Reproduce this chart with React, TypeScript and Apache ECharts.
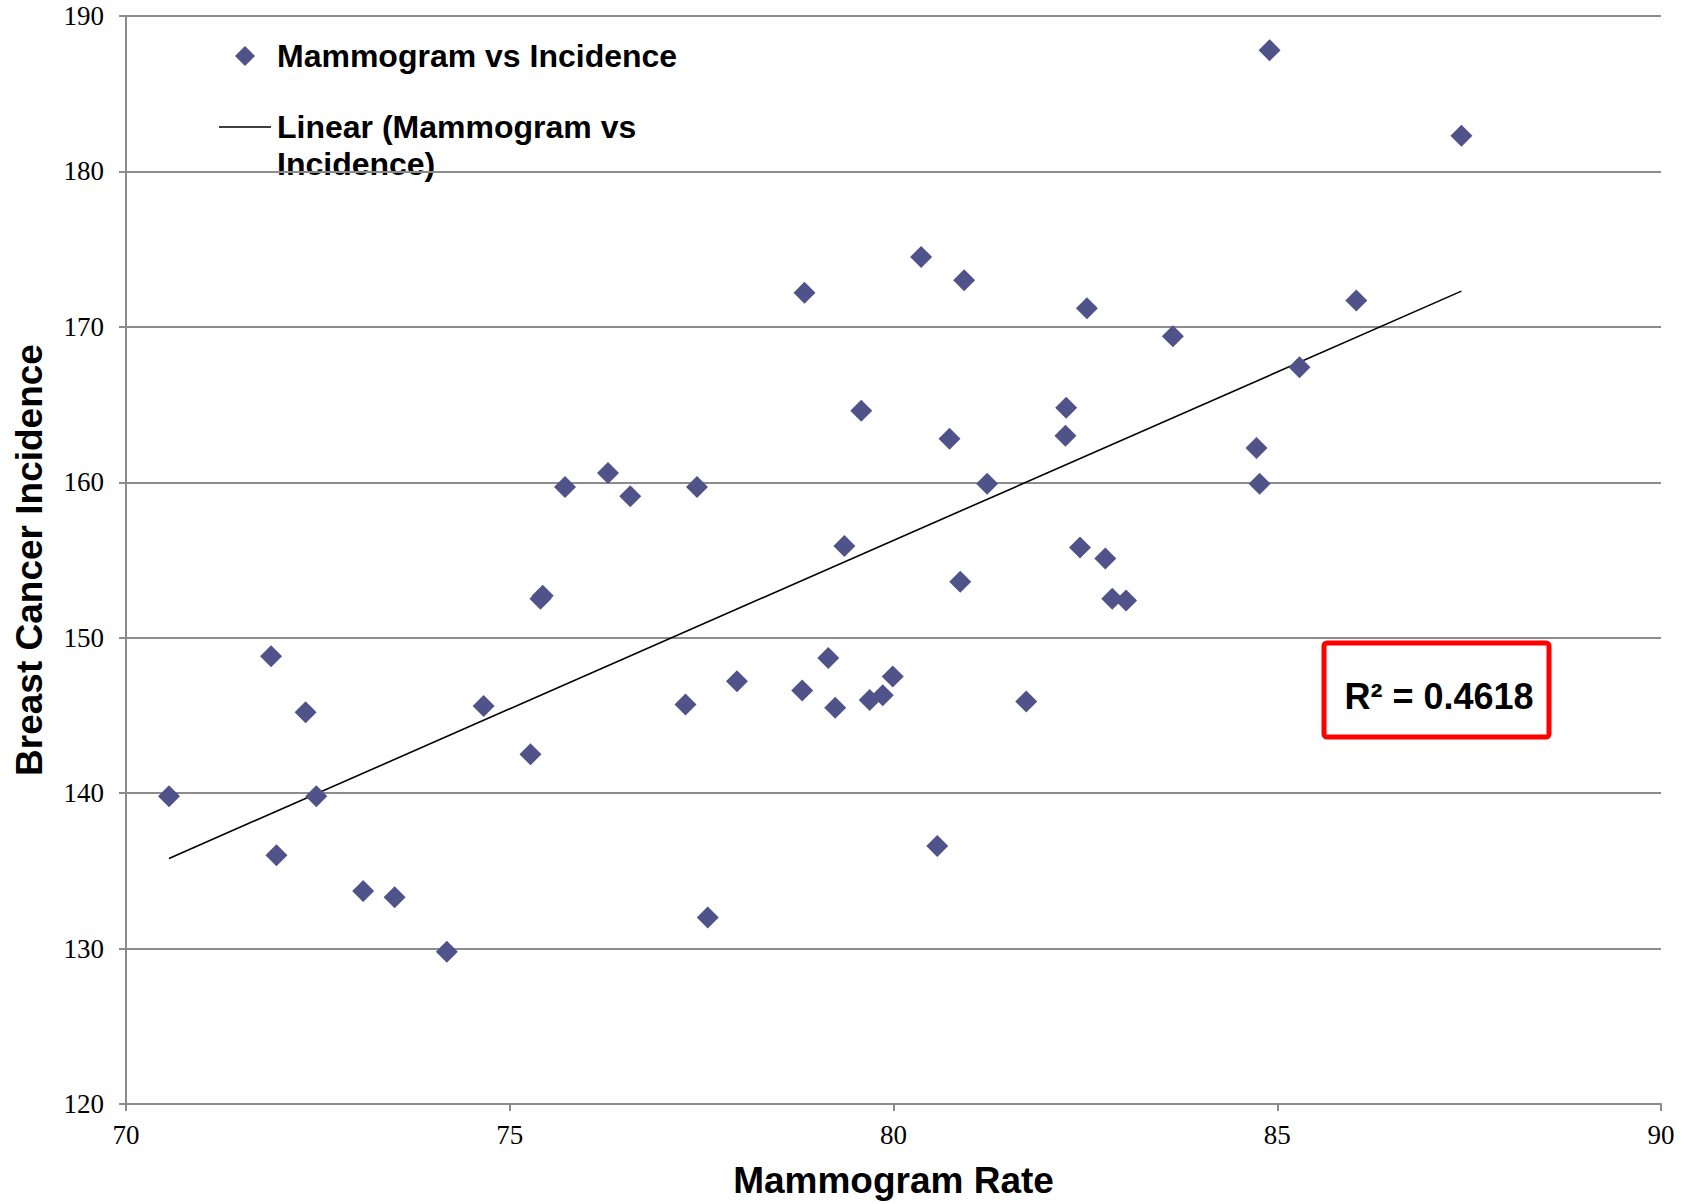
import React, { useEffect, useRef } from "react";
import * as echarts from "echarts";

const mammogramRate: number[] = [
  70.56, 71.89, 71.96, 72.34, 72.48, 73.09, 73.5, 74.18, 74.66, 75.27,
  75.4, 75.43, 75.72, 76.28, 76.57, 77.29, 77.44, 77.58, 77.96, 78.81,
  78.84, 79.15, 79.24, 79.36, 79.58, 79.69, 79.86, 79.99, 80.36, 80.57,
  80.73, 80.87, 80.92, 81.22, 81.73, 82.24, 82.25, 82.43, 82.52, 82.76,
  82.85, 83.03, 83.64, 84.73, 84.77, 84.9, 85.29, 86.03, 87.4,
];
const incidence: number[] = [
  139.8, 148.8, 136.0, 145.2, 139.8, 133.7, 133.3, 129.8, 145.6, 142.5,
  152.5, 152.7, 159.7, 160.6, 159.1, 145.7, 159.7, 132.0, 147.2, 146.6,
  172.2, 148.7, 145.5, 155.9, 164.6, 146.0, 146.3, 147.5, 174.5, 136.6,
  162.8, 153.6, 173.0, 159.9, 145.9, 163.0, 164.8, 155.8, 171.2, 155.1,
  152.5, 152.4, 169.4, 162.2, 159.9, 187.8, 167.4, 171.7, 182.3,
];
const trendX: number[] = [70.56, 87.4];
const trendY: number[] = [135.8, 172.3];
const seriesName = "Mammogram vs Incidence";
const trendName = "Linear (Mammogram vs Incidence)";
const rSquaredText = "R² = 0.4618";
const xTitle = "Mammogram Rate";
const yTitle = "Breast Cancer Incidence";

export default function App() {
  const ref = useRef<HTMLDivElement>(null);
  useEffect(() => {
    if (!ref.current) return;
    const chart = echarts.init(ref.current, null, { renderer: "svg" });
    const points = mammogramRate.map((x, i) => [x, incidence[i]]);
    const trend = trendX.map((x, i) => [x, trendY[i]]);
    const gray = "#8c8c8c";
    const markerColor = "#50538A";
    const legendFont = "bold 32px 'Liberation Sans'";
    chart.setOption({
      animation: false,
      backgroundColor: "#ffffff",
      grid: { left: 126, right: 23, top: 16, bottom: 99, containLabel: false },
      xAxis: {
        type: "value",
        min: 70,
        max: 90,
        interval: 5,
        name: xTitle,
        nameLocation: "middle",
        nameGap: 58,
        nameTextStyle: { fontFamily: "Liberation Sans", fontWeight: "bold", fontSize: 37, color: "#000" },
        axisLine: { show: true, lineStyle: { color: gray, width: 2 } },
        axisTick: { show: true, inside: false, length: 7, lineStyle: { color: gray, width: 2 } },
        axisLabel: { fontFamily: "Liberation Serif", fontSize: 27, color: "#000", margin: 17 },
        splitLine: { show: false },
      },
      yAxis: {
        type: "value",
        min: 120,
        max: 190,
        interval: 10,
        name: yTitle,
        nameLocation: "middle",
        nameGap: 78,
        nameRotate: 90,
        nameTextStyle: { fontFamily: "Liberation Sans", fontWeight: "bold", fontSize: 37, color: "#000" },
        axisLine: { show: true, lineStyle: { color: gray, width: 2 } },
        axisTick: { show: true, inside: false, length: 7, lineStyle: { color: gray, width: 2 } },
        axisLabel: { fontFamily: "Liberation Serif", fontSize: 27, color: "#000", margin: 22 },
        splitLine: { show: true, lineStyle: { color: gray, width: 2 } },
      },
      series: [
        {
          name: seriesName,
          type: "scatter",
          data: points,
          symbol: "diamond",
          symbolSize: [22, 22],
          itemStyle: { color: markerColor, opacity: 1 },
          z: 3,
        },
        {
          name: trendName,
          type: "line",
          data: trend,
          showSymbol: false,
          symbol: "none",
          lineStyle: { color: "#000", width: 1.6 },
          z: 2,
        },
      ],
      graphic: [
        {
          type: "polygon",
          shape: { points: [[245, 46], [255, 56], [245, 66], [235, 56]] },
          style: { fill: markerColor },
        },
        {
          type: "text",
          x: 277,
          y: 56,
          style: { text: seriesName, font: legendFont, fill: "#000", verticalAlign: "middle" },
        },
        {
          type: "line",
          shape: { x1: 219, y1: 127, x2: 271, y2: 127 },
          style: { stroke: "#000", lineWidth: 1.6 },
        },
        {
          type: "text",
          x: 277,
          y: 127,
          style: { text: "Linear (Mammogram vs", font: legendFont, fill: "#000", verticalAlign: "middle" },
        },
        {
          type: "text",
          x: 277,
          y: 164,
          style: { text: "Incidence)", font: legendFont, fill: "#000", verticalAlign: "middle" },
        },
        {
          type: "rect",
          shape: { x: 1324, y: 643, width: 225, height: 94, r: 3 },
          style: { fill: "#ffffff", stroke: "#ff0000", lineWidth: 5 },
          z: 10,
        },
        {
          type: "text",
          x: 1439,
          y: 696,
          style: {
            text: rSquaredText,
            font: "bold 36px 'Liberation Sans'",
            fill: "#000",
            align: "center",
            verticalAlign: "middle",
          },
          z: 11,
        },
      ],
    });
    return () => chart.dispose();
  }, []);
  return (
    <div
      ref={ref}
      style={{ position: "absolute", left: 0, top: 0, width: 1684, height: 1204 }}
    />
  );
}
